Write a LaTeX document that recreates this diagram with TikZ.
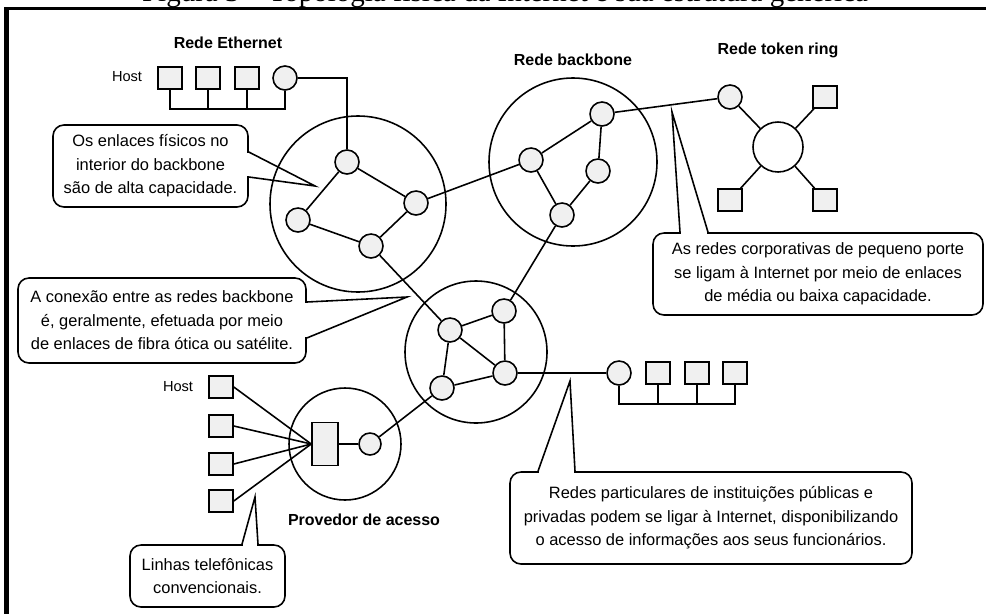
\documentclass[tikz,border=0pt]{standalone}
\usepackage{fontspec}
\setmainfont{Liberation Serif}
\setsansfont{Liberation Sans}
\usetikzlibrary{positioning,calc}

\tikzset{
  host/.style={draw, fill=gray!12, minimum width=4.8mm, minimum height=4.4mm, inner sep=0pt},
  router/.style={draw, circle, fill=gray!12, minimum size=4.8mm, inner sep=0pt},
  net/.style={draw, circle, inner sep=0pt},
  netname/.style={font=\sffamily\bfseries\fontsize{9.1}{11}\selectfont},
  hostname/.style={font=\sffamily\fontsize{8.3}{10}\selectfont},
  note/.style={draw, fill=white, rounded corners=2.2mm, align=center, inner sep=0pt,
    font=\sffamily\fontsize{9.35}{13.4}\selectfont},
}

\begin{document}
\begin{tikzpicture}[x=0.2mm, y=-0.2mm, line width=0.9pt]

\path[use as bounding box, fill=white] (0,0) rectangle (986,614);

% caption and frame
\node[anchor=base, font=\fontsize{16.5}{18}\selectfont] (caption) at (505,1.5) {Figura 3 – Topologia física da Internet e sua estrutura genérica};
\draw[line width=2pt] (4,8.5) -- (986,8.5);
\draw[line width=2.8pt] (6.5,7) -- (6.5,614);

% networks
\node[net, minimum size=35.2mm] (bb1) at (358,204) {};
\node[net, minimum size=33.6mm] (bb2) at (573,162) {};
\node[net, minimum size=28.4mm] (bb3) at (476,352) {};
\node[net, minimum size=22.4mm] (ispnet) at (345,444) {};
\node[net, minimum size=10mm] (ring) at (778,147) {};

\node[netname] (ethname) at (228,43) {Rede Ethernet};
\node[netname] (bbname) at (573,60) {Rede backbone};
\node[netname] (trname) at (778,50) {Rede token ring};
\node[netname] (ispname) at (364,520) {Provedor de acesso};
\node[hostname] (ethhost) at (127,77) {Host};
\node[hostname] (dialhost) at (178,387) {Host};

% ethernet
\node[host] (eth1) at (170,78) {};
\node[host] (eth2) at (208,78) {};
\node[host] (eth3) at (247,78) {};
\node[router] (ethr) at (285,78) {};
\coordinate (ethbus) at (0,109);
\draw (eth1.south) |- (ethbus -| ethr) -- (ethr.south);
\draw (eth2.south) -- (eth2.south |- ethbus);
\draw (eth3.south) -- (eth3.south |- ethbus);

% backbones
\node[router] (bb1a) at (347,162) {};
\node[router] (bb1b) at (298,220) {};
\node[router] (bb1c) at (416,203) {};
\node[router] (bb1d) at (371,246) {};

\node[router] (bb2a) at (531,160) {};
\node[router] (bb2b) at (602,114) {};
\node[router] (bb2c) at (598,171) {};
\node[router] (bb2d) at (562,215) {};

\node[router] (bb3a) at (450,330) {};
\node[router] (bb3b) at (504,311) {};
\node[router] (bb3c) at (505,373) {};
\node[router] (bb3d) at (442,388) {};

\draw (ethr.east) -| (bb1a.north);
\draw (bb1a) -- (bb1b);
\draw (bb1a) -- (bb1c);
\draw (bb1c) -- (bb1d);
\draw (bb1b) -- (bb1d);
\draw (bb1c) -- (bb2a);
\draw (bb1d) -- (bb3a);

\draw (bb2a) -- (bb2b);
\draw (bb2b) -- (bb2c);
\draw (bb2c) -- (bb2d);
\draw (bb2a) -- (bb2d);
\draw (bb2d) -- (bb3b);

\draw (bb3a) -- (bb3b);
\draw (bb3b) -- (bb3c);
\draw (bb3a) -- (bb3c);
\draw (bb3a) -- (bb3d);
\draw (bb3d) -- (bb3c);

% token ring
\node[router] (trr) at (730,97) {};
\node[host] (trh1) at (825,97) {};
\node[host] (trh2) at (730,200) {};
\node[host] (trh3) at (825,200) {};
\draw (bb2b) -- (trr);
\draw (trr) -- (ring);
\draw (ring) -- (trh1);
\draw (ring) -- (trh2);
\draw (ring) -- (trh3);

% corporate network
\node[router] (corpr) at (619,373) {};
\node[host] (corp1) at (658,373) {};
\node[host] (corp2) at (697,373) {};
\node[host] (corp3) at (735,373) {};
\coordinate (corpbus) at (0,404);
\draw (bb3c) -- (corpr);
\draw (corpr.south) |- (corpbus -| corp3) -- (corp3.south);
\draw (corp1.south) -- (corp1.south |- corpbus);
\draw (corp2.south) -- (corp2.south |- corpbus);

% access provider
\node[draw, fill=gray!12, minimum width=5.2mm, minimum height=8.6mm, inner sep=0pt] (isp) at (325,444) {};
\node[router, minimum size=4.4mm] (ispr) at (370,444) {};
\node[host] (dial1) at (221,387) {};
\node[host] (dial2) at (221,426) {};
\node[host] (dial3) at (221,464) {};
\node[host] (dial4) at (221,501) {};
\draw (bb3d) -- (ispr);
\draw (ispr) -- (isp);
\draw (dial1.east) -- (isp.west);
\draw (dial2.east) -- (isp.west);
\draw (dial3.east) -- (isp.west);
\draw (dial4.east) -- (isp.west);

% notes
\node[note, minimum width=39mm, minimum height=16.4mm] (note1) at (150.5,166) {Os enlaces físicos no\\interior do backbone\\são de alta capacidade.};
\coordinate (tip1) at (315,186);
\fill[white] ($(note1.east)+(-2,-13)$) rectangle ($(note1.east)+(2,10)$);
\draw ($(note1.east)+(0,-14)$) -- (tip1) -- ($(note1.east)+(0,11)$);

\node[note, minimum width=66mm, minimum height=16.4mm] (note2) at (818,274) {As redes corporativas de pequeno porte\\se ligam à Internet por meio de enlaces\\de média ou baixa capacidade.};
\coordinate (tip2) at (672,112);
\fill[white] ($(note2.north)+(-137,-2)$) rectangle ($(note2.north)+(-111,2)$);
\draw ($(note2.north)+(-138,0)$) -- (tip2) -- ($(note2.north)+(-110,0)$);

\node[note, minimum width=57.6mm, minimum height=17mm] (note3) at (162,320.5) {A conexão entre as redes backbone\\é, geralmente, efetuada por meio\\de enlaces de fibra ótica ou satélite.};
\coordinate (tip3) at (407,297);
\fill[white] ($(note3.east)+(-2,-17.5)$) rectangle ($(note3.east)+(2,16.5)$);
\draw ($(note3.east)+(0,-18.5)$) -- (tip3) -- ($(note3.east)+(0,17.5)$);

\node[note, minimum width=80.4mm, minimum height=18.4mm] (note4) at (711,518) {Redes particulares de instituições públicas e\\privadas podem se ligar à Internet, disponibilizando\\o acesso de informações aos seus funcionários.};
\coordinate (tip4) at (570,381);
\fill[white] ($(note4.north)+(-172,-2)$) rectangle ($(note4.north)+(-137,2)$);
\draw ($(note4.north)+(-173,0)$) -- (tip4) -- ($(note4.north)+(-136,0)$);

\node[note, minimum width=31mm, minimum height=12.4mm] (note5) at (207.5,576) {Linhas telefônicas\\convencionais.};
\coordinate (tip5) at (255,497);
\fill[white] ($(note5.north)+(35.5,-2)$) rectangle ($(note5.north)+(49.5,2)$);
\draw ($(note5.north)+(34.5,0)$) -- (tip5) -- ($(note5.north)+(50.5,0)$);

\end{tikzpicture}
\end{document}
